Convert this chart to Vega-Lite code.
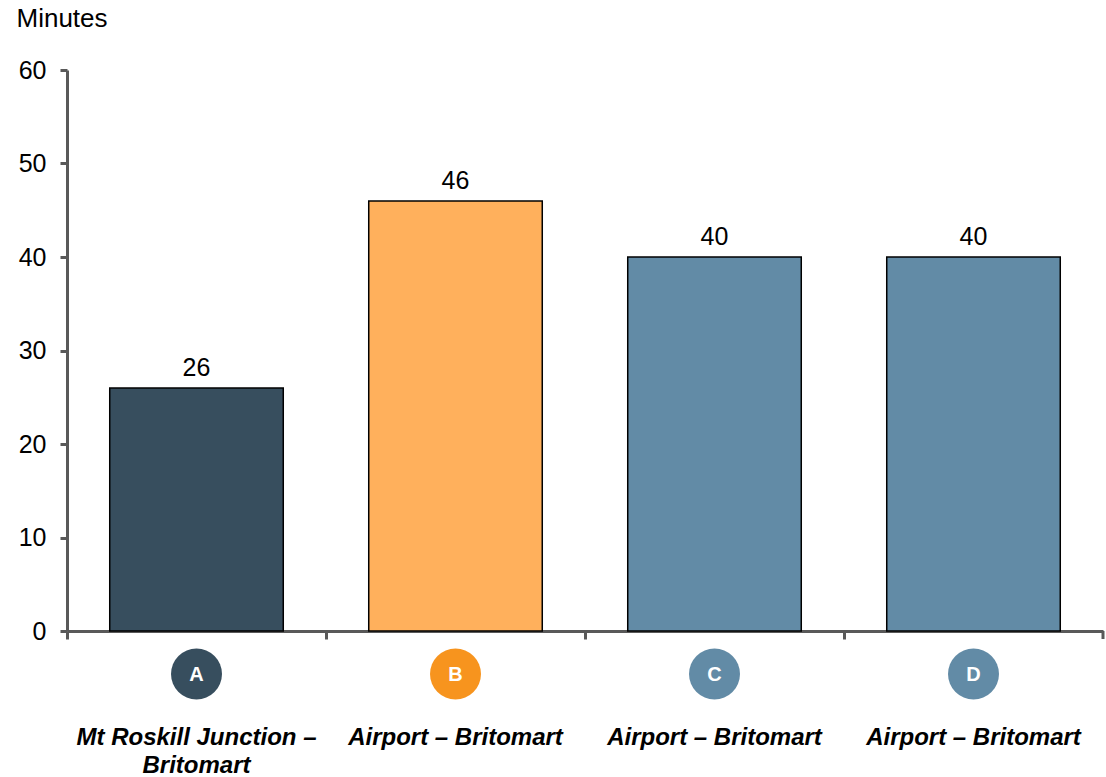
{
  "$schema": "https://vega.github.io/schema/vega-lite/v6.json",
  "width": 1036,
  "height": 561,
  "autosize": {"type": "none"},
  "padding": {"left": 67, "top": 70, "right": 3, "bottom": 146},
  "background": "white",
  "config": {
    "view": {"stroke": null},
    "font": "Liberation Sans",
    "axis": {"labelFont": "Liberation Sans", "titleFont": "Liberation Sans"}
  },
  "data": {
    "values": [
      {"cat": "A", "route": ["Mt Roskill Junction –", "Britomart"], "minutes": 26, "bar": "#374E5E", "dot": "#374E5E"},
      {"cat": "B", "route": ["Airport – Britomart"], "minutes": 46, "bar": "#FFB05C", "dot": "#F7941E"},
      {"cat": "C", "route": ["Airport – Britomart"], "minutes": 40, "bar": "#628BA6", "dot": "#628BA6"},
      {"cat": "D", "route": ["Airport – Britomart"], "minutes": 40, "bar": "#628BA6", "dot": "#628BA6"}
    ]
  },
  "encoding": {
    "x": {
      "field": "cat",
      "type": "nominal",
      "sort": null,
      "scale": {"paddingInner": 0, "paddingOuter": 0},
      "axis": {
        "title": null,
        "labels": false,
        "bandPosition": 0,
        "domainColor": "#595959",
        "domainWidth": 3,
        "tickColor": "#595959",
        "tickWidth": 3,
        "tickSize": 8
      }
    }
  },
  "layer": [
    {
      "mark": {"type": "bar", "width": {"band": 0.67}, "stroke": "black", "strokeWidth": 1.5},
      "encoding": {
        "y": {
          "field": "minutes",
          "type": "quantitative",
          "scale": {"domain": [0, 60]},
          "axis": {
            "values": [0, 10, 20, 30, 40, 50, 60],
            "grid": false,
            "title": "Minutes",
            "titleAngle": 0,
            "titleAlign": "left",
            "titleBaseline": "middle",
            "titleX": -51,
            "titleY": -52,
            "titleFontSize": 26,
            "titleFontWeight": "normal",
            "titleColor": "black",
            "labelFontSize": 25,
            "labelColor": "black",
            "labelPadding": 14,
            "domainColor": "#595959",
            "domainWidth": 3,
            "tickColor": "#595959",
            "tickWidth": 3,
            "tickSize": 7
          }
        },
        "color": {"field": "bar", "type": "nominal", "scale": null}
      }
    },
    {
      "mark": {"type": "text", "fontSize": 25, "baseline": "alphabetic", "dy": -12, "color": "black"},
      "encoding": {
        "y": {"field": "minutes", "type": "quantitative"},
        "text": {"field": "minutes", "type": "quantitative"}
      }
    },
    {
      "mark": {"type": "point", "shape": "circle", "filled": true, "opacity": 1, "size": 2600, "yOffset": 43},
      "encoding": {
        "y": {"datum": 0, "type": "quantitative"},
        "color": {"field": "dot", "type": "nominal", "scale": null}
      }
    },
    {
      "mark": {"type": "text", "fontSize": 20, "fontWeight": "bold", "color": "white", "baseline": "middle", "yOffset": 44},
      "encoding": {
        "y": {"datum": 0, "type": "quantitative"},
        "text": {"field": "cat", "type": "nominal"}
      }
    },
    {
      "mark": {"type": "text", "fontSize": 24, "fontWeight": "bold", "fontStyle": "italic", "color": "black", "baseline": "alphabetic", "yOffset": 114, "lineHeight": 28},
      "encoding": {
        "y": {"datum": 0, "type": "quantitative"},
        "text": {"field": "route"}
      }
    },
    {
      "transform": [{"filter": "datum.cat === 'D'"}],
      "mark": {"type": "rule", "color": "#595959", "strokeWidth": 3, "y2Offset": 8},
      "encoding": {
        "x": {"field": "cat", "type": "nominal", "bandPosition": 1},
        "y": {"datum": 0, "type": "quantitative"},
        "y2": {"datum": 0}
      }
    }
  ]
}
